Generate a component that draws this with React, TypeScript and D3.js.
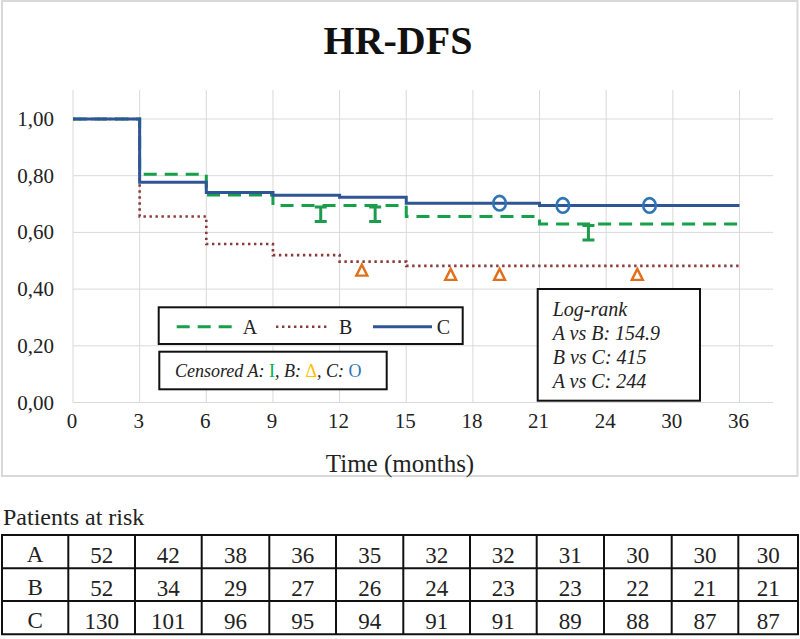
import React from "react";
import * as d3 from "d3";

const xTickPos = [0, 3, 6, 9, 12, 15, 18, 21, 24, 27, 30];
const xTickLabels = ["0", "3", "6", "9", "12", "15", "18", "21", "24", "30", "36"];
const yTicks = [0, 0.2, 0.4, 0.6, 0.8, 1.0];

const timesA = [0, 3, 6, 9, 15, 21, 30];
const survA = [1.0, 0.805, 0.732, 0.695, 0.656, 0.63, 0.63];
const timesB = [0, 3, 6, 9, 12, 15, 30];
const survB = [1.0, 0.656, 0.559, 0.52, 0.497, 0.482, 0.482];
const timesC = [0, 3, 6, 9, 12, 15, 21, 30];
const survC = [1.0, 0.777, 0.741, 0.731, 0.724, 0.703, 0.695, 0.695];

const censA = [11.15, 13.6, 23.2];
const censB = [13.0, 17.0, 19.2, 25.4];
const censC = [19.2, 22.05, 25.95];

const logRankLines = ["Log-rank", "A vs B: 154.9", "B vs C: 415", "A vs C: 244"];

const riskGroups = ["A", "B", "C"];
const riskA = [52, 42, 38, 36, 35, 32, 32, 31, 30, 30, 30];
const riskB = [52, 34, 29, 27, 26, 24, 23, 23, 22, 21, 21];
const riskC = [130, 101, 96, 95, 94, 91, 91, 89, 88, 87, 87];

const FONT = "'Liberation Serif', 'Times New Roman', serif";
const colA = "#16a04a";
const colB = "#8b3a3a";
const colC = "#2f5597";
const colMarkA = "#1c9c4c";
const colMarkB = "#e0701c";
const colMarkC = "#2e75b6";

export default function App() {
  const x = d3.scaleLinear().domain([0, 30]).range([73, 739.5]);
  const y = d3.scaleLinear().domain([0, 1]).range([402.5, 119]);
  const line = d3
    .line<[number, number]>()
    .x((d) => x(d[0]))
    .y((d) => y(d[1]))
    .curve(d3.curveStepAfter);
  const pts = (t: number[], s: number[]) => t.map((v, i) => [v, s[i]] as [number, number]);
  const at = (t: number[], s: number[], v: number) => {
    let r = s[0];
    for (let i = 0; i < t.length; i++) if (t[i] <= v) r = s[i];
    return r;
  };

  // table
  const colEdges = [2, 68.3, 135, 201.7, 269.3, 336, 403.3, 470, 536.7, 604, 671.7, 738.3, 798];
  const rowEdges = [535, 568.3, 601, 634.3];
  const riskRows = [riskA, riskB, riskC];

  return (
    <svg
      width={800}
      height={639}
      style={{ position: "absolute", left: 0, top: 0, display: "block", background: "#fff" }}
      fontFamily={FONT}
    >
      <rect x={0} y={0} width={800} height={639} fill="#fff" />
      <rect x={2} y={1} width={795.5} height={475} fill="#fff" stroke="#d9d9d9" strokeWidth={2} />
      <text x={398} y={54} textAnchor="middle" fontSize={40} fontWeight="bold" fill="#111">
        HR-DFS
      </text>
      {/* grid */}
      {yTicks.map((v) => (
        <line key={"h" + v} x1={73} x2={773} y1={y(v)} y2={y(v)} stroke="#d9d9d9" strokeWidth={1} />
      ))}
      {xTickPos.map((v) => (
        <line key={"v" + v} x1={x(v)} x2={x(v)} y1={90} y2={y(0)} stroke="#d9d9d9" strokeWidth={1} />
      ))}
      {yTicks.map((v) => (
        <text key={"yl" + v} x={54} y={y(v) + 7} textAnchor="end" fontSize={21} fill="#222">
          {v.toFixed(2).replace(".", ",")}
        </text>
      ))}
      {xTickPos.map((v, i) => (
        <text key={"xl" + v} x={x(v) - 1} y={428} textAnchor="middle" fontSize={21} fill="#222">
          {xTickLabels[i]}
        </text>
      ))}
      <text x={400} y={472} textAnchor="middle" fontSize={25} fill="#222">
        Time (months)
      </text>

      {/* curves */}
      <path d={line(pts(timesB, survB)) || ""} fill="none" stroke={colB} strokeWidth={2.6} strokeDasharray="2.4,3.6" />
      <path d={line(pts(timesA, survA)) || ""} fill="none" stroke={colA} strokeWidth={3} strokeDasharray="13,8" />
      <path d={line(pts(timesC, survC)) || ""} fill="none" stroke={colC} strokeWidth={3} />

      {/* censored markers */}
      {censA.map((t, i) => {
        const cx = x(t);
        const y0 = y(at(timesA, survA, t));
        return (
          <path
            key={"ca" + i}
            d={`M${cx - 6},${y0 + 1.5}H${cx + 6}M${cx},${y0 + 1.5}V${y0 + 16}M${cx - 6},${y0 + 16}H${cx + 6}`}
            stroke={colMarkA}
            strokeWidth={3}
            fill="none"
          />
        );
      })}
      {censB.map((t, i) => {
        const cx = x(t);
        const y0 = y(at(timesB, survB, t));
        return (
          <path
            key={"cb" + i}
            d={`M${cx},${y0 + 3}L${cx + 5.5},${y0 + 14}L${cx - 5.5},${y0 + 14}Z`}
            stroke={colMarkB}
            strokeWidth={2.4}
            strokeLinejoin="miter"
            fill="none"
          />
        );
      })}
      {censC.map((t, i) => {
        const cx = x(t);
        const y0 = y(at(timesC, survC, t));
        return (
          <ellipse key={"cc" + i} cx={cx} cy={y0} rx={6.3} ry={7.3} stroke={colMarkC} strokeWidth={2.6} fill="none" />
        );
      })}

      {/* legend 1 */}
      <rect x={158.7} y={307.3} width={304} height={36.7} fill="#fff" stroke="#111" strokeWidth={2} />
      <line x1={176.7} x2={233} y1={326.7} y2={326.7} stroke={colA} strokeWidth={3} strokeDasharray="13,8" />
      <text x={242.7} y={333.5} fontSize={20} fill="#222">A</text>
      <line x1={276} x2={329} y1={326.7} y2={326.7} stroke={colB} strokeWidth={2.6} strokeDasharray="2.4,3.6" />
      <text x={339} y={333.5} fontSize={20} fill="#222">B</text>
      <line x1={373} x2={432} y1={326.7} y2={326.7} stroke={colC} strokeWidth={3} />
      <text x={436.7} y={333.5} fontSize={20} fill="#222">C</text>

      {/* legend 2 */}
      <rect x={159.3} y={351.7} width={227.4} height={37.6} fill="#fff" stroke="#111" strokeWidth={2} />
      <text x={175} y={377} fontSize={18} fill="#222">
        <tspan fontStyle="italic">Censored A: </tspan>
        <tspan fill="#00b050">I</tspan>
        <tspan fontStyle="italic">, B: </tspan>
        <tspan fill="#ffc000">Δ</tspan>
        <tspan fontStyle="italic">, C: </tspan>
        <tspan fill="#2e75b6">O</tspan>
      </text>

      {/* log-rank box */}
      <rect x={537.7} y={289} width={162.3} height={111.7} fill="#fff" stroke="#111" strokeWidth={2} />
      {logRankLines.map((s, i) => (
        <text key={"lr" + i} x={552.7} y={316 + i * 24} fontSize={20} fontStyle="italic" fill="#222">
          {s}
        </text>
      ))}

      {/* risk table */}
      <text x={3} y={525} fontSize={24} fill="#222">Patients at risk</text>
      {rowEdges.map((ry, i) => (
        <line key={"tr" + i} x1={colEdges[0] - 1} x2={colEdges[colEdges.length - 1] + 1} y1={ry} y2={ry} stroke="#111" strokeWidth={2} />
      ))}
      {colEdges.map((cx, i) => (
        <line key={"tc" + i} x1={cx} x2={cx} y1={rowEdges[0]} y2={rowEdges[rowEdges.length - 1]} stroke="#111" strokeWidth={2} />
      ))}
      {riskGroups.map((g, r) => (
        <g key={"rg" + g}>
          <text x={(colEdges[0] + colEdges[1]) / 2} y={rowEdges[r] + 27} textAnchor="middle" fontSize={23} fill="#222">
            {g}
          </text>
          {riskRows[r].map((v, c) => (
            <text
              key={"rv" + c}
              x={(colEdges[c + 1] + colEdges[c + 2]) / 2}
              y={rowEdges[r] + 28}
              textAnchor="middle"
              fontSize={23}
              fill="#222"
            >
              {v}
            </text>
          ))}
        </g>
      ))}
    </svg>
  );
}
